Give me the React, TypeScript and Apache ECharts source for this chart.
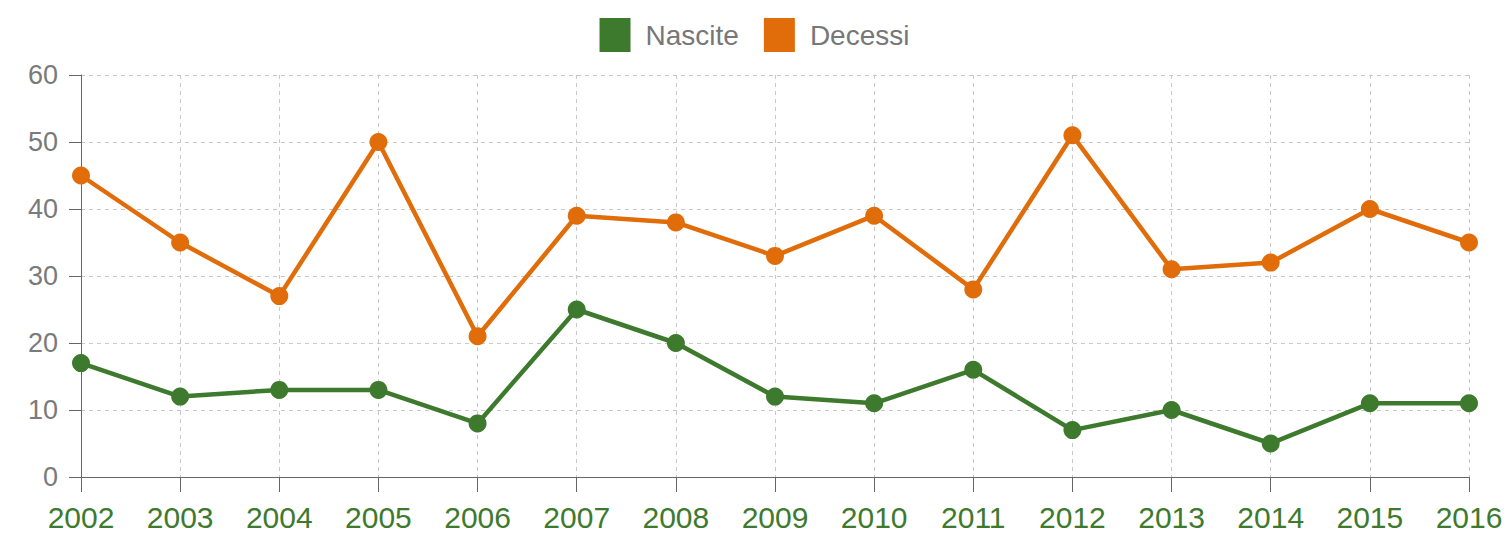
import React, { useEffect, useRef } from "react";
import * as echarts from "echarts";

const years = ["2002","2003","2004","2005","2006","2007","2008","2009","2010","2011","2012","2013","2014","2015","2016"];
const nascite = [17,12,13,13,8,25,20,12,11,16,7,10,5,11,11];
const decessi = [45,35,27,50,21,39,38,33,39,28,51,31,32,40,35];

export default function App() {
  const ref = useRef<HTMLDivElement>(null);
  useEffect(() => {
    document.body.style.margin = "0";
    const chart = echarts.init(ref.current!, null, { renderer: "svg" });
    const font = "'Liberation Sans Narrow', 'Liberation Sans', Arial, sans-serif";
    chart.setOption({
      animation: false,
      backgroundColor: "#ffffff",
      legend: {
        top: 13,
        left: "center",
        itemWidth: 31,
        itemHeight: 34,
        itemGap: 25,
        icon: "rect",
        textStyle: { fontFamily: font, fontSize: 28, color: "#777777", padding: [0, 0, 0, 10] },
        data: ["Nascite", "Decessi"],
      },
      grid: { left: 81, right: 40, top: 75, bottom: 59 },
      xAxis: {
        type: "category",
        data: years,
        boundaryGap: false,
        axisLine: { lineStyle: { color: "#666666", width: 1 } },
        axisTick: { length: 15, lineStyle: { color: "#666666" } },
        axisLabel: { fontFamily: font, fontSize: 30, color: "#3d7a2e", margin: 25 },
        splitLine: { show: true, lineStyle: { color: "#c8c8c8", type: [4, 4] } },
      },
      yAxis: {
        type: "value",
        min: 0,
        max: 60,
        interval: 10,
        axisLine: { show: true, lineStyle: { color: "#666666", width: 1 } },
        axisTick: { show: true, length: 12, lineStyle: { color: "#666666" } },
        axisLabel: { fontFamily: font, fontSize: 27, color: "#7a7a7a", margin: 23 },
        splitLine: { show: true, lineStyle: { color: "#c8c8c8", type: [4, 4] } },
      },
      series: [
        {
          name: "Nascite",
          type: "line",
          data: nascite,
          color: "#3d7a2e",
          symbol: "circle",
          symbolSize: 18,
          lineStyle: { width: 4.5 },
        },
        {
          name: "Decessi",
          type: "line",
          data: decessi,
          color: "#e06c0a",
          symbol: "circle",
          symbolSize: 18,
          lineStyle: { width: 4.5 },
        },
      ],
    });
    return () => chart.dispose();
  }, []);
  return <div ref={ref} style={{ position: "absolute", left: 0, top: 0, width: 1509, height: 536 }} />;
}
